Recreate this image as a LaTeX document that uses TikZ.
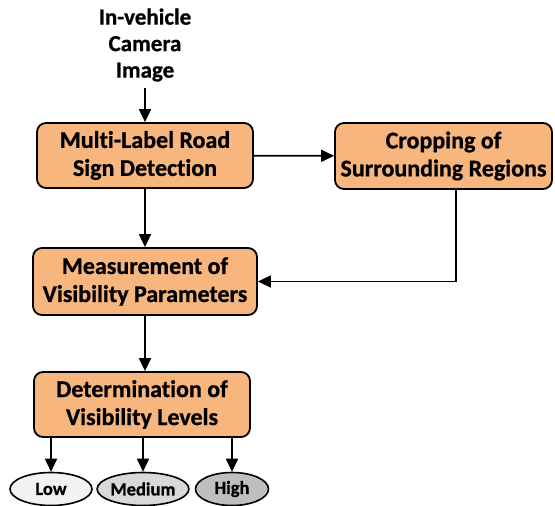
\documentclass[tikz,border=0pt]{standalone}
\usepackage{fontspec}
\setmainfont{Carlito}[Ligatures={NoCommon}, BoldFeatures={FakeBold=0.8}]
\usetikzlibrary{shapes,arrows,positioning,calc,arrows.meta}

\definecolor{boxfill}{HTML}{F7B67E}
\tikzset{
    stepbox/.style={draw, line width=1.8pt, rounded corners=9pt, fill=boxfill, align=center,
        inner sep=0pt, font=\fontsize{24}{28}\selectfont\bfseries},
    level/.style={draw, ellipse, line width=1.6pt, inner sep=0pt, minimum height=33pt,
        font=\fontsize{18.5}{20}\selectfont\bfseries},
    arr/.style={-{Triangle[width=12pt,length=13pt]}, line width=1.8pt}
}

\begin{document}
\begin{tikzpicture}[x=1pt, y=-1pt]
        \useasboundingbox (0,0) rectangle (555,506);

        \node[align=center, inner sep=0pt, font=\fontsize{23}{26.5}\selectfont\bfseries] (input) at (145,45) {In-vehicle\\Camera\\Image};

        \node[stepbox, minimum width=216pt, minimum height=65pt] (detect) at (145,155.5) {Mul\kern0pt ti-Label Road\\Sign Detection};
        \node[stepbox, minimum width=217pt, minimum height=66pt] (crop) at (443.5,156) {Cropping of\\Surrounding Regions};
        \node[stepbox, minimum width=224pt, minimum height=67pt] (measure) at (145,281.5) {Measurement of\\Visibility Parameters};
        \node[stepbox, minimum width=216pt, minimum height=65pt] (determine) at (142,404.5) {Determination of\\Visibility Levels};

        \node[level, fill=gray!10, minimum width=82pt] (low) at (51,489) {Low};
        \node[level, fill=gray!30, minimum width=85pt] (medium) at (143,489) {Medium};
        \node[level, fill=gray!50, minimum width=73pt] (high) at (232,489) {High};

        \draw[arr] ([yshift=-6pt]input.south) -- (detect.north);
        \draw[arr] (detect) -- (crop);
        \draw[arr] (detect) -- (measure);
        \draw[arr] ([xshift=12.5pt]crop.south) |- (measure.east);
        \draw[arr] (measure.south) -- (measure.south |- determine.north);
        \foreach \lvl in {low, medium, high} {
            \draw[arr] (\lvl.north |- determine.south) -- (\lvl);
        }
    \end{tikzpicture}
\end{document}
